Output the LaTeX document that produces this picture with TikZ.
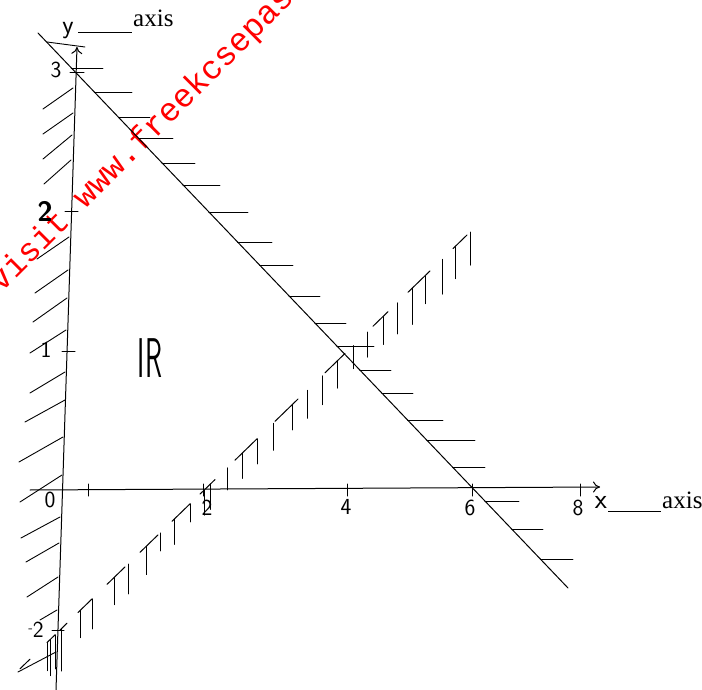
\documentclass[tikz,border=0pt]{standalone}
\usepackage{fontspec}
\newfontfamily\timesf{Liberation Serif}
\newfontfamily\monof{Liberation Mono}
\usetikzlibrary{arrows.meta}
\begin{document}
\begin{tikzpicture}[x=1pt,y=-1pt,
  pen/.style={line width=1pt,line cap=round},
  hatchline/.style={line width=0.9pt,line cap=round},
  lbl/.style={font=\sffamily\fontsize{23}{23}\selectfont,inner sep=0pt},
  axislbl/.style={font=\timesf\fontsize{25}{25}\selectfont,inner sep=0pt,anchor=base west},
  arrowtip/.style={-{To[length=7pt,width=11pt]}}]
\useasboundingbox (0,0) rectangle (702,690);
\clip (0,0) rectangle (702,690);
\fill[white] (0,0) rectangle (702,690);

% ---------- watermark ----------
\node[font=\monof\fontsize{33}{33}\selectfont,text=red,rotate=45,anchor=base west,inner sep=0pt]
  (wm) at (1,294) {visit www.freekcsepastpapers.com};

% ---------- axes ----------
\coordinate (ybot) at (56,690);
\coordinate (ytop) at (77,47);
\coordinate (xleft) at (30,490);
\coordinate (xright) at (600,487);
\draw[pen,arrowtip] (ybot) -- (ytop);
\draw[pen,arrowtip] (xleft) -- (xright);

% ticks
\foreach \x in {88,203,347,472,580} \draw[pen] (\x,484) -- (\x,496);
\draw[pen] (70,73) -- (84,73);
\draw[pen] (65,212) -- (78,212);
\draw[pen] (62,351) -- (75,351);
\draw[pen] (52,630) -- (64,630);

% ---------- line x+2y=6 with hatches ----------
\coordinate (L1a) at (38,33);
\coordinate (L1b) at (568,588);
\draw[pen] (L1a) -- (L1b);
\draw[hatchline] (47,42) -- (85,47);
\foreach \y/\e in {68/103,92/132,117/150,138/173,163/195,185/220,212/248,242/272,
                   265/293,296/320,323/346,346/374,370/391,393/413,420/443,440/475,
                   467/485,501/519,529/543,559/573}
  \draw[hatchline] ({38+(\y-33)/1.047},\y) -- (\e,\y);

% ---------- y-axis hatches ----------
\foreach \ax/\ay/\bx/\by in {73/88/43/109,73/113/43/134,72/135/43/159,71/160/44/184,
                   69/237/37/259,68/270/35/293,67/298/33/322,66/330/30/353,
                   65/372/30/393,65/400/25/422,63/437/19/462,62/475/20/502,
                   60/517/21/538,59/543/26/562,58/577/27/597,57/610/40/620,
                   56/652/18/672}
  \draw[hatchline] (\ax,\ay) -- (\bx,\by);

% ---------- second line with vertical hatches ----------
\coordinate (L2a) at (20,669);
\coordinate (L2b) at (473,229);
\foreach \a/\b in {20/30,47/55,60/67,78/92,107/125,140/158,172/190,200/215,
                   235/257,275/298,325/345,373/388,408/430,453/467}
  \draw[pen] (\a,{630-0.9705*(\a-60)}) -- (\b,{630-0.9705*(\b-60)});
\foreach \v/\l in {47/28,50/36,55/34,61/42,80/27,92/30,114/27,128/30,146/28,160/18,
                   174/25,190/18,204/25,210/25,227/22,242/25,257/25,273/27,292/25,
                   307/28,322/29,337/27,353/23,367/25,383/28,397/31,412/36,425/28,
                   442/35,455/32,470/33}
  \draw[hatchline] (\v,{630-0.9705*(\v-60)}) -- ++(0,\l);

% ---------- labels ----------
\node[lbl] (t3) at (56,70) {3};
\node[lbl,font=\sffamily\bfseries\fontsize{28}{28}\selectfont] (t2y) at (45,211) {2};
\node[lbl] (t1y) at (46,350) {1};
\node[lbl] (t0) at (50,500) {0};
\node[lbl] (tm2) at (36,630) {\raisebox{5pt}{\fontsize{14}{14}\selectfont -}2};
\node[lbl] (t2x) at (207,508) {2};
\node[lbl] (t4) at (346,507) {4};
\node[lbl] (t6) at (470,508) {6};
\node[lbl] (t8) at (578,508) {8};
\node[lbl,font=\sffamily\fontsize{26}{26}\selectfont] (ylab) at (68,31) {y};
\node[lbl,font=\sffamily\fontsize{28}{28}\selectfont] (xlab) at (601,502) {x};
\draw[line width=0.8pt] (78,32) -- (132,32);
\draw[line width=0.8pt] (608,511) -- (661,511);
\node[axislbl] (axisT) at (133,27) {axis};
\node[axislbl] (axisR) at (662,508) {axis};
\node[font=\sffamily\fontsize{56}{56}\selectfont,xscale=0.5,inner sep=0pt] (R) at (150,358) {IR};
\end{tikzpicture}
\end{document}
